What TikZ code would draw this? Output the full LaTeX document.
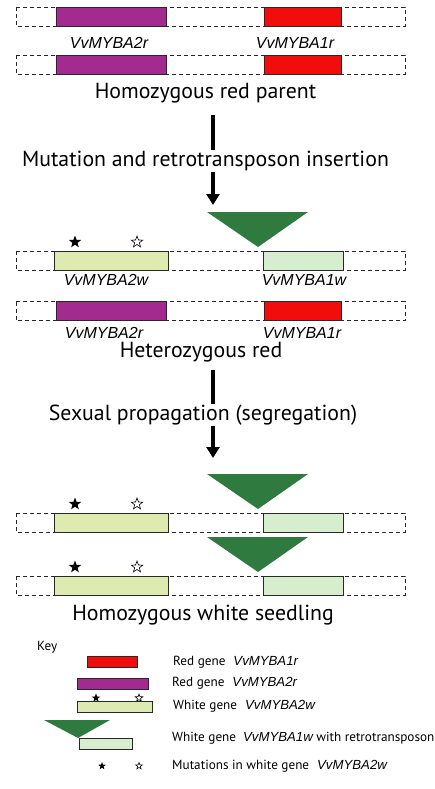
\documentclass[tikz,border=0pt]{standalone}
\usepackage{fontspec}
\setmainfont{PT Sans}
\newfontfamily\genefont{Liberation Sans}
\usetikzlibrary{arrows.meta,shapes.geometric}
\definecolor{magentagene}{RGB}{163,42,142}
\definecolor{redgene}{RGB}{242,13,13}
\definecolor{whitegeneA}{RGB}{221,234,176}
\definecolor{whitegeneB}{RGB}{214,237,206}
\definecolor{retro}{RGB}{47,122,62}
\definecolor{edgegray}{RGB}{40,40,40}
\newcommand\gn[1]{{\genefont\itshape #1}}
\newcommand\redrow[1]{%
  \draw[chrom] (16,#1) rectangle (405,#1+19);
  \draw[genebox, fill=magentagene] (56,#1) rectangle (166,#1+19);
  \draw[genebox, fill=redgene] (264,#1) rectangle (341,#1+19);
}
\newcommand\whiterow[2]{%
  \draw[chrom] (16,#2) rectangle (405,#2+19);
  \draw[genebox, fill=whitegeneA] (54,#2) rectangle (168,#2+19);
  \draw[genebox, fill=whitegeneB] (263,#2) rectangle (343,#2+19);
  \fill[retro] (207,#2-39) -- (308,#2-39) -- (258,#2-4) -- cycle;
  \node[fstar=13] (#1f) at (75,#2-9) {};
  \node[hstar=12] (#1h) at (137,#2-9) {};
}
\begin{document}
\begin{tikzpicture}[x=1pt,y=-1pt,
  chrom/.style={draw=black!85, dash pattern=on 4pt off 3pt, line width=0.8pt},
  genebox/.style={draw=edgegray, line width=0.9pt},
  big/.style={font=\fontsize{21.8}{25}\selectfont, inner sep=1pt},
  genelab/.style={font=\fontsize{16}{18}\selectfont\genefont\itshape, inner sep=0pt},
  keylab/.style={font=\fontsize{13.2}{15}\selectfont, anchor=west, inner sep=0pt},
  fstar/.style={star, star points=5, star point ratio=2.4, fill=black, inner sep=0pt, minimum size=#1},
  fstar/.default=13,
  hstar/.style={star, star points=5, star point ratio=2.4, draw=black, fill=white, line width=0.6pt, inner sep=0pt, minimum size=#1},
  hstar/.default=12,
  flow/.style={line width=3.6pt, -{Triangle[length=11pt,width=13pt]}},
]
\fill[white] (0,0) rectangle (435,789);
\useasboundingbox (0,0) rectangle (435,789);

% Homozygous red parent
\redrow{7}
\node[genelab] (l1a) at (109,43) {VvMYBA2r};
\node[genelab] (l1b) at (295,43) {VvMYBA1r};
\redrow{55.5}
\node[big] (parent) at (205.5,93) {Homozygous red parent};

% arrow 1
\coordinate (a1s) at (213,115);
\coordinate (a1e) at (213,205);
\draw[flow] (a1s) -- (a1e);
\node[big, fill=white] (mut) at (205.5,161) {Mutation and retrotransposon insertion};

% Heterozygous red
\whiterow{h}{251}
\node[genelab] (l3a) at (106,280) {VvMYBA2w};
\node[genelab] (l3b) at (304,280) {VvMYBA1w};
\redrow{301.5}
\node[genelab] (l4a) at (104,332.5) {VvMYBA2r};
\node[genelab] (l4b) at (302,332.5) {VvMYBA1r};
\node[big] (het) at (201,352) {Heterozygous red};

% arrow 2
\coordinate (a2s) at (213,370);
\coordinate (a2e) at (213,458);
\draw[flow] (a2s) -- (a2e);
\node[big, fill=white] (sex) at (203,415) {Sexual propagation (segregation)};

% Homozygous white seedling
\whiterow{w1}{513}
\whiterow{w2}{576}
\node[big] (seed) at (203,615) {Homozygous white seedling};

% Key
\node[keylab] (key) at (37,647) {Key};
\draw[genebox, fill=redgene] (87,656) rectangle (137,667);
\draw[genebox, fill=magentagene] (77,678) rectangle (148,689);
\node[fstar=9] (k3f) at (96,698) {};
\node[hstar=8] (k3h) at (139,698) {};
\draw[genebox, fill=whitegeneA] (77,701) rectangle (152,712);
\fill[retro] (44,720) -- (110,720) -- (78,738) -- cycle;
\draw[genebox, fill=whitegeneB] (79,738) rectangle (132,749);
\node[fstar=8] (k5f) at (102,766) {};
\node[hstar=7] (k5h) at (139,766) {};

\node[keylab] (t1) at (173,662) {Red gene\hspace{8pt}\gn{VvMYBA1r}};
\node[keylab] (t2) at (172,683) {Red gene\hspace{8pt}\gn{VvMYBA2r}};
\node[keylab] (t3) at (173,706) {White gene\hspace{8pt}\gn{VvMYBA2w}};
\node[keylab] (t4) at (172,738) {White gene\hspace{7pt}\gn{VvMYBA1w} with retrotransposon};
\node[keylab] (t5) at (172,766) {Mutations in white gene\hspace{8pt}\gn{VvMYBA2w}};
\end{tikzpicture}
\end{document}
